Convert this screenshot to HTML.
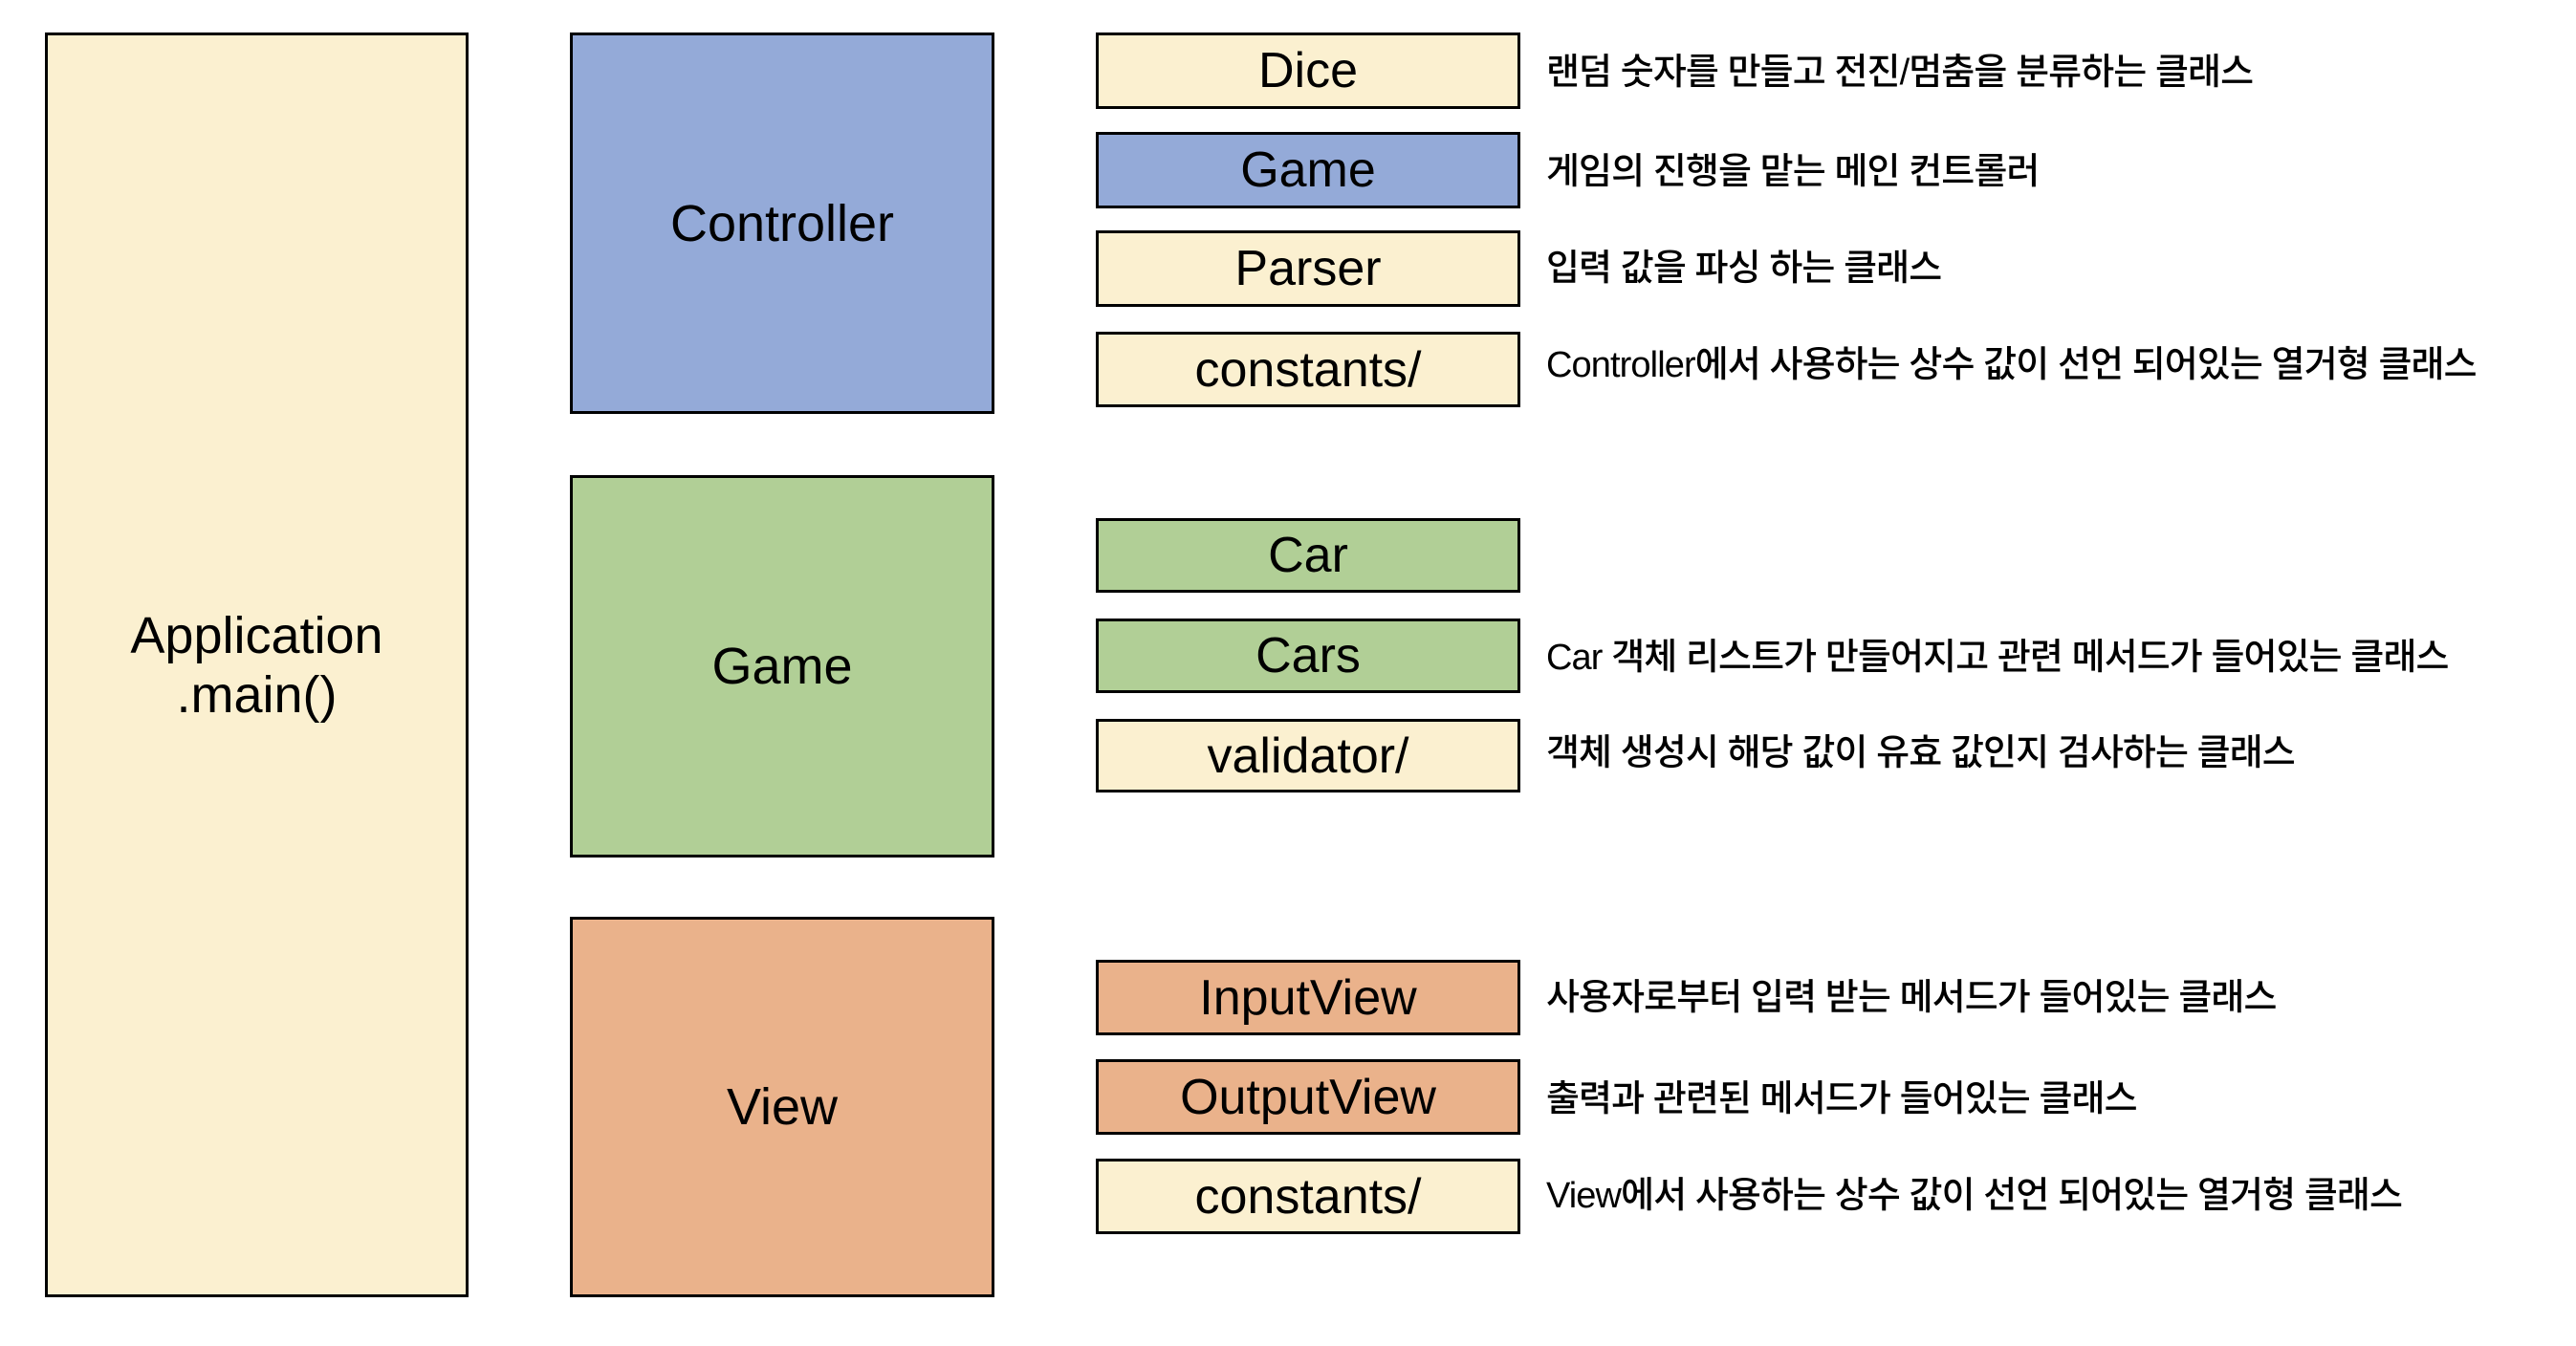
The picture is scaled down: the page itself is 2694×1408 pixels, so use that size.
<!DOCTYPE html>
<html><head><meta charset="utf-8"><style>
body{margin:0;width:2694px;height:1408px;background:#fff;position:relative;overflow:hidden;font-family:"Liberation Sans","Noto Sans CJK KR",sans-serif;}
.b{position:absolute;box-sizing:border-box;border:3px solid #000;display:flex;align-items:center;justify-content:center;text-align:center;color:#000;}
.big{font-size:54px;line-height:62px;}
.sm{font-size:52px;}
.y{background:#fbf0d0;}.bl{background:#94aad8;}.g{background:#b1cf96;}.o{background:#eab28b;}
.t{position:absolute;left:1617px;font-size:38px;letter-spacing:-0.9px;white-space:nowrap;line-height:40px;font-weight:500;font-family:"Liberation Sans","Noto Sans CJK KR",sans-serif;}
</style></head><body>
<div class="b y big" style="left:47px;top:34px;width:443px;height:1323px;">Application<br>.main()</div>
<div class="b bl big" style="left:596px;top:34px;width:444px;height:399px;">Controller</div>
<div class="b g big" style="left:596px;top:497px;width:444px;height:400px;">Game</div>
<div class="b o big" style="left:596px;top:959px;width:444px;height:398px;">View</div>

<div class="b y sm" style="left:1146px;top:34px;width:444px;height:80px;">Dice</div>
<div class="b bl sm" style="left:1146px;top:138px;width:444px;height:80px;">Game</div>
<div class="b y sm" style="left:1146px;top:241px;width:444px;height:80px;">Parser</div>
<div class="b y sm" style="left:1146px;top:347px;width:444px;height:79px;">constants/</div>

<div class="b g sm" style="left:1146px;top:542px;width:444px;height:78px;">Car</div>
<div class="b g sm" style="left:1146px;top:647px;width:444px;height:78px;">Cars</div>
<div class="b y sm" style="left:1146px;top:752px;width:444px;height:77px;">validator/</div>

<div class="b o sm" style="left:1146px;top:1004px;width:444px;height:79px;">InputView</div>
<div class="b o sm" style="left:1146px;top:1108px;width:444px;height:79px;">OutputView</div>
<div class="b y sm" style="left:1146px;top:1212px;width:444px;height:79px;">constants/</div>

<div class="t" style="top:56px;">랜덤 숫자를 만들고 전진/멈춤을 분류하는 클래스</div>
<div class="t" style="top:160px;">게임의 진행을 맡는 메인 컨트롤러</div>
<div class="t" style="top:261px;">입력 값을 파싱 하는 클래스</div>
<div class="t" style="top:362px;">Controller에서 사용하는 상수 값이 선언 되어있는 열거형 클래스</div>
<div class="t" style="top:668px;">Car 객체 리스트가 만들어지고 관련 메서드가 들어있는 클래스</div>
<div class="t" style="top:768px;">객체 생성시 해당 값이 유효 값인지 검사하는 클래스</div>
<div class="t" style="top:1024px;">사용자로부터 입력 받는 메서드가 들어있는 클래스</div>
<div class="t" style="top:1130px;">출력과 관련된 메서드가 들어있는 클래스</div>
<div class="t" style="top:1231px;">View에서 사용하는 상수 값이 선언 되어있는 열거형 클래스</div>
</body></html>
